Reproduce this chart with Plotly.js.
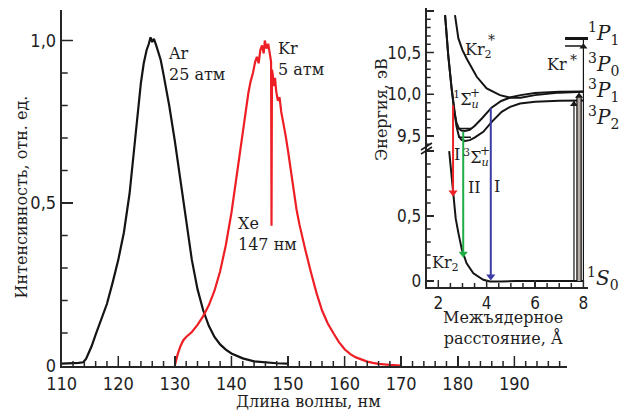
<!DOCTYPE html>
<html><head><meta charset="utf-8">
<script src="https://cdn.plot.ly/plotly-3.0.1.min.js"></script>
<style>html,body{margin:0;padding:0;background:#fff}</style>
</head><body><div id="chart" style="width:623px;height:413px"></div>
<script>
// ---- Main spectra ----
const arWave = [110,111,112,113,113.8,114.3,114.8,115.3,116,117,118,119,120,121,122,123,123.5,124,124.5,125,125.4,125.7,126,126.3,126.7,127,127.5,128,129,130,131,132,133,134,135,136,137,138,139,140,141,142,144,146,148,150];
const arInt = [0.006,0.006,0.007,0.008,0.01,0.02,0.04,0.06,0.095,0.14,0.19,0.255,0.325,0.41,0.53,0.70,0.79,0.87,0.93,0.97,0.99,1.01,0.995,1.005,0.985,0.97,0.94,0.895,0.80,0.69,0.565,0.44,0.325,0.235,0.17,0.122,0.088,0.065,0.049,0.037,0.029,0.022,0.013,0.009,0.007,0.006];
const krWave = [130,130.5,131,131.5,132,133,134,135,136,137,138,139,140,141,142,142.5,143,143.4,143.8,144.2,144.5,144.8,145.1,145.4,145.7,145.9,146.2,146.5,146.8,147.0,147.08,147.16,147.3,147.5,147.7,147.9,148.2,148.5,148.8,149.2,149.6,150,150.5,151,151.5,152,152.5,153,154,155,156,157,158,159,160,161,162,163,164,165,166,168,170];
const krInt = [0.0,0.035,0.06,0.078,0.088,0.103,0.125,0.152,0.185,0.23,0.29,0.37,0.47,0.595,0.725,0.785,0.84,0.875,0.90,0.935,0.95,0.93,0.97,0.985,0.96,1.0,0.975,0.99,0.95,0.935,0.43,0.91,0.895,0.86,0.885,0.845,0.815,0.825,0.78,0.745,0.705,0.66,0.595,0.535,0.48,0.435,0.395,0.36,0.29,0.225,0.17,0.13,0.10,0.072,0.05,0.035,0.025,0.018,0.012,0.008,0.005,0.002,0.0];

// ---- Inset: potential curves (R in Å, E in eV) ----
const sig1R = [2.28,2.41,2.55,2.66,2.75,2.85,2.95,3.1,3.3,3.5,3.8,4.2,4.6,5.0,5.4,6.0,7.0,8.0];
const sig1E = [10.95,10.47,10.07,9.80,9.66,9.59,9.565,9.56,9.575,9.62,9.71,9.84,9.92,9.965,9.99,10.015,10.03,10.035];
const sig3R = [2.28,2.41,2.55,2.66,2.75,2.85,2.95,3.1,3.3,3.5,3.86,4.21,4.62,4.97,5.38,6.0,7.0,8.0];
const sig3E = [10.95,10.47,10.07,9.80,9.62,9.50,9.455,9.44,9.45,9.48,9.55,9.67,9.79,9.85,9.89,9.91,9.922,9.925];
const kr2sR = [2.69,2.83,3.0,3.17,3.59,4.0,4.55,4.97,5.4,6.0,7.0,8.0];
const kr2sE = [10.95,10.67,10.53,10.43,10.21,10.07,9.99,9.96,9.96,9.99,10.02,10.03];
const groundR = [2.45,2.52,2.62,2.72,2.83,2.97,3.17,3.45,3.86,4.14,4.6,5.2,6.5,8.0];
const groundE = [1.0,0.85,0.63,0.48,0.37,0.245,0.136,0.06,0.01,-0.004,-0.004,0.0,0.0,0.0];
const vibR = [2.82, 3.35];
const vib1E = 9.59, vib3E = 9.485;
const p1R = [7.24, 8.2], p1E = 10.67;
const p0R = [7.24, 7.93], p0E = 10.58;
// emission arrows (from upper state to ground)
const emR = [2.61, 3.03, 4.17];
const emFrom = [9.87, 9.55, 9.84];
const emTo = [0.646, 0.175, 0.0];
const emColor = ['#ec2228', '#1fae45', '#3c3ca6'];
// absorption arrows (from ground to atomic levels)
const abR = [7.61, 7.82, 8.0];
const abTo = [9.93, 10.03, 10.62];

// ---- layout helpers (pixel -> paper) ----
const W = 623, H = 413;
const PX = p => p / W, PY = p => 1 - p / H;
const UPMIN = 9.332, UPMAX = 11.035, LOMIN = -0.046, LOMAX = 1.008;
const narrow = "Liberation Sans Narrow, DejaVu Sans Condensed, Arial Narrow, sans-serif";
const serif = "DejaVu Serif, Liberation Serif, serif";
const ink = '#1e1e1e';
const axc = '#262626';

// axis geometry (pixels) and ranges
const AX = {
  x:  {px: [61.7, 567], range: [110, 199.3]},
  y:  {px: [366, 10], range: [-0.0015, 1.0938]},
  x2: {px: [426.7, 588], range: [1.52, 8.19]},
  y2: {px: [287, 150], range: [LOMIN, LOMAX]},
  y3: {px: [150, 8], range: [UPMIN, UPMAX]}
};
const perPx = a => (AX[a].range[1] - AX[a].range[0]) / Math.abs(AX[a].px[1] - AX[a].px[0]);

const traces = [];
traces.push({x: arWave, y: arInt, type: 'scatter', mode: 'lines', line: {color: '#141414', width: 2.2}, xaxis: 'x', yaxis: 'y'});
traces.push({x: krWave, y: krInt, type: 'scatter', mode: 'lines', line: {color: '#ee1f24', width: 2.2}, xaxis: 'x', yaxis: 'y'});
function inset(x, y, up, line) {
  traces.push({x: x, y: y, type: 'scatter', mode: 'lines', line: line, xaxis: 'x2', yaxis: up ? 'y3' : 'y2'});
}
const blk = {color: '#151515', width: 2};
inset(sig1R, sig1E, true, blk);
inset(sig3R, sig3E, true, blk);
inset(kr2sR, kr2sE, true, blk);
inset(groundR, groundE, false, blk);
inset(vibR, vibR.map(() => vib1E), true, {color: '#151515', width: 1.5});
inset(vibR, vibR.map(() => vib3E), true, {color: '#151515', width: 1.5});
inset(p1R, p1R.map(() => p1E), true, {color: '#151515', width: 3});
inset(p0R, p0R.map(() => p0E), true, {color: '#151515', width: 1.5});
emR.forEach((r, i) => {
  const ln = {color: emColor[i], width: 2};
  inset([r, r], [emFrom[i], UPMIN], true, ln);
  inset([r, r], [LOMAX, emTo[i] + 0.03], false, ln);
  traces.push({x: [r], y: [emTo[i] + 0.035], type: 'scatter', mode: 'markers', xaxis: 'x2', yaxis: 'y2',
    marker: {symbol: 'triangle-down', size: 8, color: emColor[i], line: {width: 0}}});
});
abR.forEach((r, i) => {
  if (i === 1) {
    inset([r, r], [0, LOMAX], false, {color: '#151515', width: 5.5});
    inset([r, r], [UPMIN, abTo[i] - 0.05], true, {color: '#151515', width: 5.5});
    inset([r, r], [0, LOMAX], false, {color: '#b8aea8', width: 3});
    inset([r, r], [UPMIN, abTo[i] - 0.05], true, {color: '#b8aea8', width: 3});
  } else {
    inset([r, r], [0, LOMAX], false, {color: '#151515', width: 1.2});
    inset([r, r], [UPMIN, i === 2 ? p1E : abTo[i]], true, {color: '#151515', width: 1.2});
  }
  traces.push({x: [r], y: [abTo[i] - 0.05], type: 'scatter', mode: 'markers', xaxis: 'x2', yaxis: 'y3',
    marker: {symbol: 'triangle-up', size: 7, color: '#1a1a1a', line: {width: 0}}});
});

// inward tick marks (drawn as thin line traces on each axis' own scale)
const near = (v, m) => Math.abs(v / m - Math.round(v / m)) < 1e-6;
function xTickTrace(xa, ya, from, to, step, major, majLen, minLen) {
  const xs = [], ys = [], y0 = AX[ya].range[0], u = perPx(ya);
  const n = Math.round((to - from) / step);
  for (let k = 0; k <= n; k++) {
    const v = +(from + k * step).toFixed(4);
    const len = major(v) ? majLen : minLen;
    xs.push(v, v, null); ys.push(y0, y0 + len * u, null);
  }
  traces.push({x: xs, y: ys, type: 'scatter', mode: 'lines', xaxis: xa, yaxis: ya, cliponaxis: false,
    line: {color: axc, width: 1.5}, connectgaps: false, hoverinfo: 'skip'});
}
function yTickTrace(xa, ya, from, to, step, major, majLen, minLen) {
  const xs = [], ys = [], x0 = AX[xa].range[0], u = perPx(xa);
  const n = Math.round((to - from) / step);
  for (let k = 0; k <= n; k++) {
    const v = +(from + k * step).toFixed(4);
    const len = major(v) ? majLen : minLen;
    ys.push(v, v, null); xs.push(x0, x0 + len * u, null);
  }
  traces.push({x: xs, y: ys, type: 'scatter', mode: 'lines', xaxis: xa, yaxis: ya, cliponaxis: false,
    line: {color: axc, width: 1.5}, connectgaps: false, hoverinfo: 'skip'});
}
xTickTrace('x', 'y', 112, 198, 2, v => near(v, 10), 10, 5);
yTickTrace('x', 'y', 0.1, 1.0, 0.1, v => near(v, 0.5), 11, 6);
xTickTrace('x2', 'y2', 2, 8, 0.5, v => near(v, 2), 7, 4);
yTickTrace('x2', 'y2', 0.1, 1.0, 0.1, v => near(v, 0.5), 7, 4);
yTickTrace('x2', 'y3', 9.4, 11.0, 0.1, v => near(v, 0.5), 7, 4);

const tickfontMain = {family: narrow, size: 18, color: ink};
const tickfontIn = {family: narrow, size: 17, color: ink};
function ann(text, x, y, opt) {
  return Object.assign({text: text, x: PX(x), y: PY(y), xref: 'paper', yref: 'paper', showarrow: false,
    xanchor: 'left', yanchor: 'middle', align: 'left', font: {family: serif, size: 16, color: ink}}, opt || {});
}
const big = {family: serif, size: 20, color: ink};
const small = {family: serif, size: 14, color: ink};
const annotations = [
  ann('Длина волны, нм', 308, 401, {xanchor: 'center'}),
  ann('Интенсивность, отн. ед.', 21, 197.5, {xanchor: 'center', textangle: -90}),
  ann('Ar<br>25 атм', 166, 64),
  ann('Kr<br>5 атм', 276, 59),
  ann('Xe<br>147 нм', 236, 234),
  ann('Межъядерное<br>расстояние, Å', 502.5, 328, {xanchor: 'center', align: 'center'}),
  ann('Энергия, эВ', 381, 110, {xanchor: 'center', textangle: -90}),
  ann('Kr<sub>2</sub>', 463, 50),
  ann('*', 486, 40, {font: small}),
  ann('<sup>1</sup>Σ<sub><i>u</i></sub>', 451, 99),
  ann('+', 468, 93, {font: {family: serif, size: 12, color: ink}}),
  ann('I', 452, 154),
  ann('<sup>3</sup>Σ<sub><i>u</i></sub>', 461, 157),
  ann('+', 478, 151, {font: {family: serif, size: 12, color: ink}}),
  ann('II', 466, 187),
  ann('I', 492, 186),
  ann('Kr<sub>2</sub>', 430, 263),
  ann('Kr', 545, 65),
  ann('*', 568, 60, {font: small}),
  ann('<sup>1</sup><i>P</i><sub>1</sub>', 586, 34, {font: big}),
  ann('<sup>3</sup><i>P</i><sub>0</sub>', 586, 65, {font: big}),
  ann('<sup>3</sup><i>P</i><sub>1</sub>', 586, 91, {font: big}),
  ann('<sup>3</sup><i>P</i><sub>2</sub>', 586, 117, {font: big}),
  ann('<sup>1</sup><i>S</i><sub>0</sub>', 585, 278, {font: big})
];

// axis break mark
const shapes = [
  {type: 'line', xref: 'paper', yref: 'paper', x0: PX(421), y0: PY(150), x1: PX(432), y1: PY(143), line: {color: ink, width: 1.5}},
  {type: 'line', xref: 'paper', yref: 'paper', x0: PX(421), y0: PY(154), x1: PX(432), y1: PY(147), line: {color: ink, width: 1.5}}
];

function axis(name, o, majorLen, font) {
  const a = AX[name];
  const isX = name[0] === 'x';
  const dom = isX ? [PX(a.px[0]), PX(a.px[1])] : [PY(a.px[0]), PY(a.px[1])];
  return Object.assign({domain: dom, range: a.range, showline: true, linecolor: axc, linewidth: 2,
    ticks: 'inside', tickcolor: axc, tickwidth: 1.5, ticklen: majorLen, showgrid: false, zeroline: false,
    fixedrange: true, tickfont: font, tickmode: 'linear'}, o);
}
const layout = {
  width: W, height: H, margin: {l: 0, r: 0, t: 0, b: 0}, showlegend: false,
  separators: ', ',
  paper_bgcolor: '#fff', plot_bgcolor: 'rgba(0,0,0,0)',
  xaxis: axis('x', {anchor: 'y', tick0: 110, dtick: 10}, 10, tickfontMain),
  yaxis: axis('y', {anchor: 'x', tick0: 0, dtick: 0.5, tickformat: '.1f', labelalias: {'0,0': '0'}}, 11, tickfontMain),
  xaxis2: axis('x2', {anchor: 'y2', tick0: 0, dtick: 2}, 7, tickfontIn),
  yaxis2: axis('y2', {anchor: 'x2', tick0: 0, dtick: 0.5, tickformat: '.1f', labelalias: {'0,0': '0', '1,0': ' '}}, 7, tickfontIn),
  yaxis3: axis('y3', {anchor: 'x2', tick0: 9.5, dtick: 0.5, tickformat: '.1f', labelalias: {'11,0': ' '}}, 7, tickfontIn),
  annotations: annotations, shapes: shapes
};
Plotly.newPlot('chart', traces, layout, {staticPlot: true, displayModeBar: false});
</script></body></html>
